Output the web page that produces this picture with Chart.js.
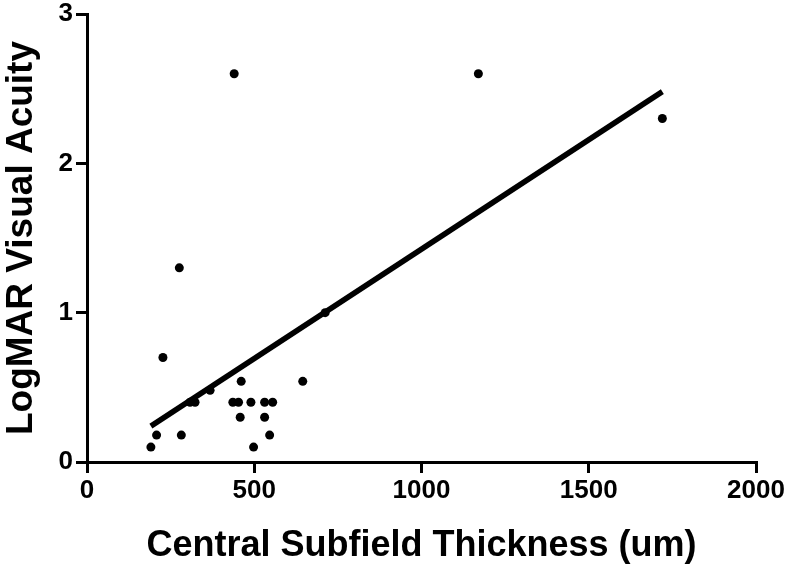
<!DOCTYPE html>
<html lang="en">
<head>
  <meta charset="UTF-8">
  <title>LogMAR Visual Acuity vs Central Subfield Thickness</title>
  <script src="https://cdn.jsdelivr.net/npm/chart.js"></script>
  <style>
    body { margin: 0; background: #fff; }
    #chart { display: block; }
  </style>
</head>
<body>
  <canvas id="chart" width="793" height="571"></canvas>

  <script>
    // Scatter values
    const thickness = [191, 208, 227, 276, 282, 308, 323, 368, 436, 453, 440, 458,
                       461, 490, 498, 531, 531, 546, 555, 645, 712, 1170, 1720];
    const logmar    = [0.10, 0.18, 0.70, 1.30, 0.18, 0.40, 0.40, 0.48, 0.40, 0.40, 2.60, 0.30,
                       0.54, 0.40, 0.10, 0.40, 0.30, 0.18, 0.40, 0.54, 1.00, 2.60, 2.30];

    // Regression line end points
    const fitX = [191, 1720];
    const fitY = [0.24, 2.48];

    const xTicks = [0, 500, 1000, 1500, 2000];
    const yTicks = [0, 1, 2, 3];

    const font = { family: "'Liberation Sans', Arial, sans-serif", weight: 'bold' };

    const axisStyle = {
      border: { display: true, color: '#000', width: 3 },
      grid: { drawOnChartArea: false, drawTicks: true, tickLength: 11, lineWidth: 3, color: '#000' }
    };

    new Chart(document.getElementById('chart'), {
      type: 'scatter',
      data: {
        datasets: [
          {
            label: 'Patients',
            data: thickness.map((x, i) => ({ x: x, y: logmar[i] })),
            backgroundColor: '#000',
            borderWidth: 0,
            pointRadius: 4.5
          },
          {
            label: 'Linear fit',
            data: fitX.map((x, i) => ({ x: x, y: fitY[i] })),
            showLine: true,
            borderColor: '#000',
            borderWidth: 5.5,
            pointRadius: 0
          }
        ]
      },
      options: {
        responsive: false,
        animation: false,
        layout: { padding: { top: 14, right: 37, bottom: 3, left: 0 } },
        plugins: { legend: { display: false }, tooltip: { enabled: false } },
        scales: {
          x: {
            ...axisStyle,
            min: xTicks[0],
            max: xTicks[xTicks.length - 1],
            afterBuildTicks: s => { s.ticks = xTicks.map(v => ({ value: v })); },
            afterFit: s => { s.height = 106; },
            ticks: { color: '#000', font: { ...font, size: 26 }, padding: 2, maxRotation: 0,
                     callback: v => String(v) },
            title: {
              display: true,
              text: 'Central Subfield Thickness (um)',
              color: '#000',
              font: { ...font, size: 36 },
              padding: 0
            }
          },
          y: {
            ...axisStyle,
            min: yTicks[0],
            max: yTicks[yTicks.length - 1],
            afterBuildTicks: s => { s.ticks = yTicks.map(v => ({ value: v })); },
            // fixed width, and let the layout padding alone set the top edge
            afterFit: s => { s.width = 87; s.paddingTop = 0; s.paddingBottom = 0; },
            ticks: { color: '#000', font: { ...font, size: 26 }, padding: 3,
                     callback: v => String(v) },
            title: {
              display: true,
              text: 'LogMAR Visual Acuity',
              color: '#000',
              font: { ...font, size: 37 },
              padding: 0
            }
          }
        }
      }
    });
  </script>
</body>
</html>
